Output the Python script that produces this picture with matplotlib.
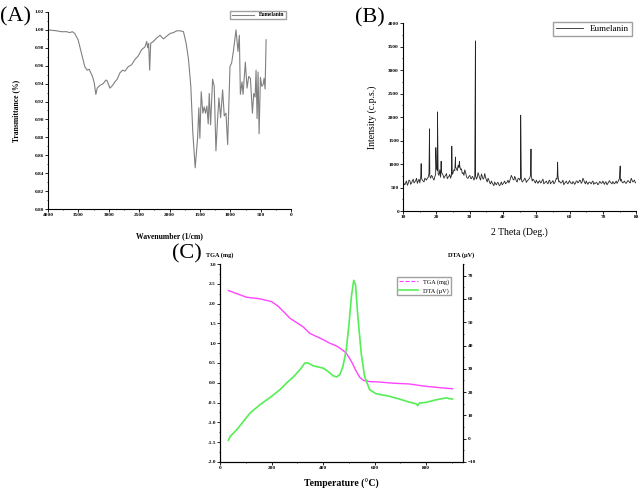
import matplotlib.pyplot as plt
from matplotlib.ticker import MultipleLocator

plt.rcParams['font.family'] = ['Liberation Serif', 'DejaVu Serif']

# ---------------- (A) FTIR ----------------
wavenumber = [4000, 3862, 3780, 3697, 3642, 3600, 3560, 3505, 3450, 3395, 3356, 3323,
              3268, 3240, 3213, 3191, 3147, 3092, 3048, 3026, 2982, 2938, 2900, 2862,
              2817, 2773, 2735, 2680, 2625, 2570, 2515, 2460, 2405, 2377, 2360, 2345,
              2328, 2311, 2267, 2212, 2157, 2102, 2047, 1992, 1937, 1882, 1827, 1772,
              1728, 1689, 1651, 1618, 1579, 1541, 1519, 1502, 1480, 1453, 1431, 1409,
              1387, 1365, 1348, 1326, 1293, 1266, 1238, 1211, 1189, 1161, 1128, 1101,
              1073, 1045, 1007, 980, 947, 908, 875, 853, 836, 809, 792, 754, 726, 699,
              671, 638, 616, 594, 578, 561, 545, 528, 506, 484, 462, 446, 429, 413]
transmittance = [1.000, 0.999, 0.998, 0.998, 0.997, 0.998, 0.996, 0.989, 0.974, 0.959, 0.955, 0.956,
                 0.948, 0.941, 0.928, 0.935, 0.938, 0.940, 0.944, 0.943, 0.935, 0.938, 0.942, 0.945,
                 0.952, 0.955, 0.954, 0.959, 0.961, 0.967, 0.971, 0.978, 0.981, 0.987, 0.980, 0.985,
                 0.955, 0.985, 0.987, 0.991, 0.994, 0.990, 0.993, 0.996, 0.997, 0.999, 0.999, 0.998,
                 0.985, 0.967, 0.937, 0.885, 0.846, 0.878, 0.913, 0.879, 0.931, 0.907, 0.914, 0.907,
                 0.915, 0.895, 0.929, 0.894, 0.945, 0.937, 0.865, 0.900, 0.924, 0.902, 0.933, 0.904,
                 0.907, 0.872, 0.959, 0.963, 0.978, 1.000, 0.976, 0.994, 0.928, 0.942, 0.928, 0.964,
                 0.935, 0.948, 0.946, 0.907, 0.929, 0.925, 0.955, 0.901, 0.953, 0.884, 0.947, 0.937,
                 0.939, 0.946, 0.934, 0.989]

# ---------------- (B) XRD ----------------
theta_base = [10 + 0.5 * i for i in range(141)]
counts_base = [620, 560, 640, 590, 650, 600, 680, 620, 700, 640, 600, 700, 640, 700, 660, 720,
               740, 760, 690, 730, 900, 800, 880, 820, 760, 740, 800, 720, 780, 760, 820, 860,
               900, 980, 960, 900, 820, 880, 740, 700, 760, 690, 720, 700, 680, 820, 700, 790,
               680, 800, 660, 700, 600, 640, 570, 620, 560, 610, 540, 620, 580, 640, 600, 660,
               640, 760, 680, 740, 640, 690, 660, 680, 640, 700, 610, 660, 700, 760, 680, 620,
               660, 590, 650, 610, 680, 600, 640, 580, 660, 610, 650, 600, 700, 760, 640, 600,
               660, 590, 640, 580, 650, 600, 630, 570, 640, 600, 660, 590, 700, 610, 640, 570,
               620, 580, 640, 600, 610, 560, 630, 590, 640, 570, 620, 590, 650, 600, 630, 580,
               640, 620, 700, 680, 600, 640, 590, 650, 610, 700, 620, 660, 610]
theta_mid = [10.25 + 0.5 * i for i in range(140)]
counts_mid = [580, 610, 550, 660, 570, 640, 600, 650, 590, 680,
              720, 660, 620, 680, 700, 800, 700, 740, 660, 780,
              860, 760, 720, 800, 700, 760, 690, 740, 700, 780,
              880, 940, 860, 920, 880, 800, 760, 820, 700, 740,
              700, 740, 660, 760, 720, 760, 660, 740, 700, 720,
              620, 660, 580, 600, 540, 580, 600, 560, 580, 560,
              610, 580, 620, 600, 700, 720, 660, 700, 620, 700,
              700, 620, 660, 680, 640, 680, 760, 640, 660, 600,
              620, 630, 600, 650, 580, 620, 600, 640, 580, 620,
              580, 640, 680, 620, 600, 620, 560, 610, 600, 620,
              600, 580, 610, 590, 640, 620, 650, 620, 660, 580,
              600, 610, 600, 620, 570, 590, 600, 580, 620, 600,
              600, 620, 560, 620, 610, 580, 600, 610, 590, 660,
              640, 620, 620, 600, 620, 640, 600, 660, 640, 600]
peak_theta = [15.4, 17.9, 19.8, 20.3, 21.4, 24.6, 25.7, 26.9, 31.7, 45.3, 48.4, 56.4, 75.2]
peak_counts = [1010, 1750, 1350, 2110, 1060, 1380, 1150, 1060, 3620, 2040, 1320, 1040, 960]

# ---------------- (C) TGA / DTA ----------------
temp_tga = [32, 65, 103, 155, 200, 226, 252, 271, 297, 323, 348, 374, 400, 426, 452,
            471, 490, 510, 529, 542, 557, 581, 619, 671, 735, 800, 865, 903]
tga = [2.33, 2.25, 2.16, 2.12, 2.05, 1.93, 1.76, 1.63, 1.52, 1.41, 1.25, 1.17, 1.09, 1.00, 0.93,
       0.85, 0.75, 0.54, 0.29, 0.14, 0.06, 0.03, 0.02, -0.01, -0.03, -0.09, -0.13, -0.15]
temp_dta = [32, 39, 65, 90, 116, 155, 200, 232, 258, 284, 310, 329, 342, 361, 400, 419, 439,
            452, 465, 477, 490, 501, 510, 519, 526, 535, 548, 561, 581, 606, 658, 697, 735,
            761, 768, 774, 800, 839, 877, 903]
dta = [-0.7, 1.0, 3.9, 7.4, 11.0, 14.6, 18.2, 21.0, 23.9, 26.5, 29.6, 32.5, 32.5, 31.3, 30.3,
       28.9, 27.0, 26.5, 27.5, 31.0, 38.2, 49.6, 61.1, 68.0, 66.1, 52.5, 36.8, 26.8, 21.0, 19.3,
       18.2, 17.0, 15.7, 15.0, 14.2, 15.3, 15.6, 16.7, 17.5, 17.0]

fig = plt.figure(figsize=(6.4, 4.91), dpi=100)

# panel A
axA = fig.add_axes([0.075, 0.5743, 0.380, 0.4013])
axA.plot(wavenumber, transmittance, color='#808080', lw=0.8, label='Eumelanin')
axA.set_xlim(4000, 0)
axA.set_ylim(0.80, 1.02)
axA.xaxis.set_major_locator(MultipleLocator(500))
axA.xaxis.set_minor_locator(MultipleLocator(250))
axA.yaxis.set_major_locator(MultipleLocator(0.02))
axA.yaxis.set_minor_locator(MultipleLocator(0.01))
axA.yaxis.set_major_formatter(lambda v, p: '%.2f' % v)
axA.spines['top'].set_visible(False)
axA.spines['right'].set_visible(False)
axA.tick_params(labelsize=3.8, length=2, width=0.6, pad=1)
axA.tick_params(which='minor', length=1, width=0.5)
for t in axA.get_xticklabels() + axA.get_yticklabels():
    t.set_fontweight('bold')
axA.set_xlabel('Wavenumber (1/cm)', fontsize=5.5, fontweight='bold', labelpad=11)
axA.set_ylabel('Transmittance (%)', fontsize=5.5, fontweight='bold', labelpad=10)
axA.legend(loc='upper right', prop={'size': 4, 'weight': 'bold'}, fancybox=False,
           edgecolor='#888888', handlelength=4, borderpad=0.3, bbox_to_anchor=(0.99, 1.02))
fig.text(0.0, 0.965, '(A)', fontsize=16, va='center')

# panel B
pts = sorted(zip(theta_base + theta_mid + peak_theta, counts_base + counts_mid + peak_counts))
theta = [p[0] for p in pts]
counts = [p[1] for p in pts]
axB = fig.add_axes([0.630, 0.570, 0.364, 0.383])
axB.plot(theta, counts, color='#262626', lw=0.6, label='Eumelanin')
axB.set_xlim(10, 80)
axB.set_ylim(0, 4000)
axB.xaxis.set_major_locator(MultipleLocator(10))
axB.xaxis.set_minor_locator(MultipleLocator(5))
axB.yaxis.set_major_locator(MultipleLocator(500))
axB.yaxis.set_minor_locator(MultipleLocator(250))
axB.spines['top'].set_visible(False)
axB.spines['right'].set_visible(False)
axB.tick_params(labelsize=3.8, length=2, width=0.6, pad=1)
axB.tick_params(which='minor', length=1, width=0.5)
for t in axB.get_xticklabels() + axB.get_yticklabels():
    t.set_fontweight('bold')
axB.set_xlabel('2 Theta (Deg.)', fontsize=7, labelpad=6)
axB.set_ylabel('Intensity (c.p.s.)', fontsize=7, labelpad=8)
axB.legend(loc='upper right', prop={'size': 6.5}, fancybox=False, edgecolor='#888888',
           handlelength=3, borderpad=0.3, bbox_to_anchor=(1.0, 1.03))
fig.text(0.555, 0.963, '(B)', fontsize=16, va='center')

# panel C
axC = fig.add_axes([0.344, 0.0591, 0.380, 0.4032])
l1, = axC.plot(temp_tga, tga, color='#ff44ff', lw=1.0, label='TGA (mg)')
axC.set_xlim(0, 945)
axC.set_ylim(-2.0, 3.0)
axC.xaxis.set_major_locator(MultipleLocator(200))
axC.xaxis.set_minor_locator(MultipleLocator(100))
axC.yaxis.set_major_locator(MultipleLocator(0.5))
axC.yaxis.set_minor_locator(MultipleLocator(0.25))
axC.yaxis.set_major_formatter(lambda v, p: '%.1f' % v)
axC.spines['top'].set_visible(False)
axD = axC.twinx()
l2, = axD.plot(temp_dta, dta, color='#55ee55', lw=1.2, label='DTA (µV)')
axD.set_ylim(-10, 75)
axD.yaxis.set_major_locator(MultipleLocator(10))
axD.yaxis.set_minor_locator(MultipleLocator(5))
axD.spines['top'].set_visible(False)
for ax in (axC, axD):
    ax.tick_params(labelsize=3.8, length=2, width=0.6, pad=1)
    ax.tick_params(which='minor', length=1, width=0.5)
    for t in ax.get_xticklabels() + ax.get_yticklabels():
        t.set_fontweight('bold')
axC.set_xlabel('Temperature (°C)', fontsize=7, fontweight='bold', labelpad=6)
fig.text(0.344, 0.480, 'TGA (mg)', fontsize=4.5, fontweight='bold', ha='center', va='center')
fig.text(0.720, 0.480, 'DTA (µV)', fontsize=4.5, fontweight='bold', ha='center', va='center')
h1, = axC.plot([], [], color='#ff44ff', lw=0.8, ls='--')
axD.legend([h1, l2], ['TGA (mg)', 'DTA (µV)'], loc='upper right', prop={'size': 4.5},
           fancybox=False, edgecolor='#888888', handlelength=3, borderpad=0.3,
           bbox_to_anchor=(0.96, 0.95))
fig.text(0.268, 0.482, '(C)', fontsize=16, va='center')

plt.savefig('out.png', dpi=100)
